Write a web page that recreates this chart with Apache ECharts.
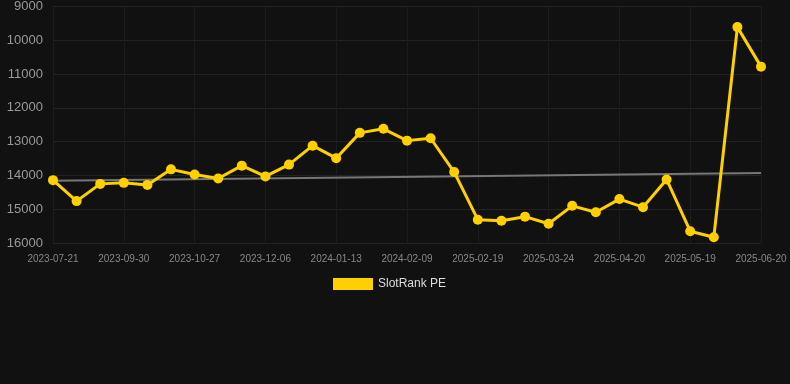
<!DOCTYPE html>
<html>
<head>
<meta charset="utf-8">
<style>
  html, body { margin: 0; padding: 0; background: #111111; }
  #chart { width: 790px; height: 384px; }
</style>
<script src="https://cdn.jsdelivr.net/npm/echarts@6/dist/echarts.min.js"></script>
</head>
<body>
<div id="chart"></div>
<script>
let dates = [
	"2023-07-21", "2023-08-14", "2023-09-07", "2023-09-30", "2023-10-09", "2023-10-18",
	"2023-10-27", "2023-11-09", "2023-11-22", "2023-12-06", "2023-12-19", "2024-01-01",
	"2024-01-13", "2024-01-22", "2024-01-31", "2024-02-09", "2024-06-15", "2024-10-20",
	"2025-02-19", "2025-03-02", "2025-03-13", "2025-03-24", "2025-04-02", "2025-04-11",
	"2025-04-20", "2025-04-30", "2025-05-09", "2025-05-19", "2025-05-30", "2025-06-10",
	"2025-06-20"
];
let peValues = [
	14140, 14760, 14250, 14220, 14280, 13820,
	13970, 14090, 13710, 14030, 13680, 13120,
	13490, 12740, 12620, 12970, 12900, 13900,
	15310, 15340, 15220, 15430, 14900, 15090,
	14700, 14940, 14120, 15650, 15830, 9610,
	10780
];
// trend line ends (first and last category)
let trendValues = [14160, 13930];
let yTicks = { min: 9000, max: 16000, step: 1000 };

let chart = echarts.init(document.getElementById("chart"));

let opt = {
	backgroundColor: "#111111",
	animation: false,
	grid: {
		left: 53,
		right: 29,
		top: 6,
		bottom: 141
	},
	legend: {
		data: ["SlotRank PE"],
		top: 273,
		left: 328,
		itemWidth: 40,
		itemHeight: 12,
		itemGap: 6,
		icon: "rect",
		textStyle: {
			color: "#dddddd",
			fontSize: 12,
			fontFamily: "Liberation Sans"
		}
	},
	xAxis: {
		type: "category",
		data: dates,
		boundaryGap: false,
		axisLine: { show: false },
		axisTick: { show: false },
		axisLabel: {
			interval: 2,
			color: "#888888",
			fontSize: 10,
			fontFamily: "Liberation Sans",
			margin: 11
		},
		splitLine: {
			show: true,
			interval: 2,
			lineStyle: { color: "#1c1c1c", width: 1 }
		}
	},
	yAxis: {
		type: "value",
		inverse: true,
		min: yTicks.min,
		max: yTicks.max,
		interval: yTicks.step,
		axisLine: { show: false },
		axisTick: { show: false },
		axisLabel: {
			color: "#999999",
			fontSize: 13,
			fontFamily: "Liberation Sans",
			margin: 10,
			formatter: function (v) { return String(v); }
		},
		splitLine: {
			lineStyle: { color: "#222222", width: 1 }
		}
	},
	series: [
		{
			name: "Trend",
			type: "line",
			data: [[0, trendValues[0]], [dates.length - 1, trendValues[1]]],
			symbol: "none",
			lineStyle: { color: "#777777", width: 2 },
			z: 1,
			silent: true
		},
		{
			name: "SlotRank PE",
			type: "line",
			data: peValues,
			symbol: "circle",
			symbolSize: 10,
			itemStyle: { color: "#ffd000" },
			lineStyle: { color: "#ffd000", width: 3 },
			z: 2
		}
	]
};
chart.setOption(opt);
</script>
</body>
</html>
